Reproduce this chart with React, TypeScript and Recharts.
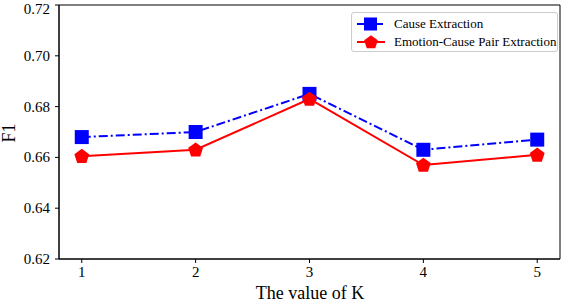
import React from 'react';
import { LineChart, Line, XAxis, YAxis, ReferenceArea } from 'recharts';

const kValues = [1, 2, 3, 4, 5];
const causeExtraction = [0.668, 0.670, 0.685, 0.663, 0.667];
const pairExtraction = [0.6605, 0.663, 0.683, 0.657, 0.661];
const yTicks = [0.62, 0.64, 0.66, 0.68, 0.70, 0.72];
const seriesNames = ['Cause Extraction', 'Emotion-Cause Pair Extraction'];

const data = kValues.map((k, i) => ({ k, ce: causeExtraction[i], ecpe: pairExtraction[i] }));

const FONT = '"Liberation Serif", "DejaVu Serif", serif';

const Square = (props: any) => {
  const { cx, cy } = props;
  if (cx == null || cy == null) return null;
  return <rect key={`s-${cx}`} x={cx - 7} y={cy - 7} width={14} height={14} fill="#0000ff" />;
};

const pentPoints = (cx: number, cy: number, r: number) =>
  Array.from({ length: 5 }, (_, i) => {
    const a = -Math.PI / 2 + (i * 2 * Math.PI) / 5;
    return `${cx + r * Math.cos(a)},${cy + r * Math.sin(a)}`;
  }).join(' ');

const Pentagon = (props: any) => {
  const { cx, cy } = props;
  if (cx == null || cy == null) return null;
  return <polygon key={`p-${cx}`} points={pentPoints(cx, cy + 0.5, 7.8)} fill="#ff0000" />;
};

const XTick = (props: any) => {
  const { x, y, payload } = props;
  return (
    <text x={x} y={y} dy={11} textAnchor="middle" fontFamily={FONT} fontSize={15} fill="#000">
      {payload.value}
    </text>
  );
};

const YTick = (props: any) => {
  const { x, y, payload } = props;
  return (
    <text x={x} y={y} dy={5} textAnchor="end" fontFamily={FONT} fontSize={15} fill="#000">
      {Number(payload.value).toFixed(2)}
    </text>
  );
};

const LegendBox = () => (
  <div
    style={{
      position: 'absolute',
      left: 351,
      top: 12,
      border: '1px solid #cccccc',
      borderRadius: 3,
      background: 'rgba(255,255,255,0.8)',
      width: 207,
      height: 40,
      boxSizing: 'border-box',
      fontFamily: FONT,
      fontSize: 13,
      color: '#000',
      padding: '2px 0 0 5px',
      whiteSpace: 'nowrap',
    }}
  >
    <div style={{ display: 'flex', alignItems: 'center', height: 18 }}>
      <svg width={28} height={16} style={{ marginRight: 9, flex: 'none' }}>
        <line x1={0} y1={8} x2={28} y2={8} stroke="#0000ff" strokeWidth={2} strokeDasharray="9 3 2 3" />
        <rect x={7} y={1.5} width={13} height={13} fill="#0000ff" />
      </svg>
      <span>{seriesNames[0]}</span>
    </div>
    <div style={{ display: 'flex', alignItems: 'center', height: 18 }}>
      <svg width={28} height={16} style={{ marginRight: 9, flex: 'none' }}>
        <line x1={0} y1={8} x2={28} y2={8} stroke="#ff0000" strokeWidth={2} />
        <polygon points={pentPoints(14, 8.5, 7.2)} fill="#ff0000" />
      </svg>
      <span>{seriesNames[1]}</span>
    </div>
  </div>
);

export default function App() {
  return (
    <div style={{ position: 'absolute', left: 0, top: 0, width: 568, height: 302, background: '#fff' }}>
      <LineChart width={568} height={302} data={data} margin={{ top: 5, right: 8, bottom: 0, left: 0 }}>
        <ReferenceArea x1={0.8} x2={5.2} y1={0.62} y2={0.72} fill="none" stroke="#000" strokeWidth={1} strokeOpacity={1} />
        <XAxis
          dataKey="k"
          type="number"
          domain={[0.8, 5.2]}
          ticks={kValues}
          height={43}
          tickSize={4}
          tickMargin={3}
          axisLine={{ stroke: '#000' }}
          tickLine={{ stroke: '#000' }}
          tick={<XTick />}
          label={{
            content: () => (
              <text x={310} y={293} textAnchor="middle" dominantBaseline="central" fontFamily={FONT} fontSize={18} fill="#000">
                The value of K
              </text>
            ),
          }}
        />
        <YAxis
          type="number"
          domain={[0.62, 0.72]}
          ticks={yTicks}
          width={59}
          tickSize={4}
          tickMargin={5}
          allowDataOverflow
          axisLine={{ stroke: '#000' }}
          tickLine={{ stroke: '#000' }}
          tick={<YTick />}
          label={{
            content: () => (
              <text
                x={9}
                y={133}
                transform="rotate(-90 9 133)"
                textAnchor="middle"
                dominantBaseline="central"
                fontFamily={FONT}
                fontSize={18}
                fill="#000"
              >
                F1
              </text>
            ),
          }}
        />
        <Line
          dataKey="ce"
          name={seriesNames[0]}
          stroke="#0000ff"
          strokeWidth={2}
          strokeDasharray="9 3 2 3"
          dot={<Square />}
          activeDot={false}
          isAnimationActive={false}
        />
        <Line
          dataKey="ecpe"
          name={seriesNames[1]}
          stroke="#ff0000"
          strokeWidth={2}
          dot={<Pentagon />}
          activeDot={false}
          isAnimationActive={false}
        />
      </LineChart>
      <LegendBox />
    </div>
  );
}
